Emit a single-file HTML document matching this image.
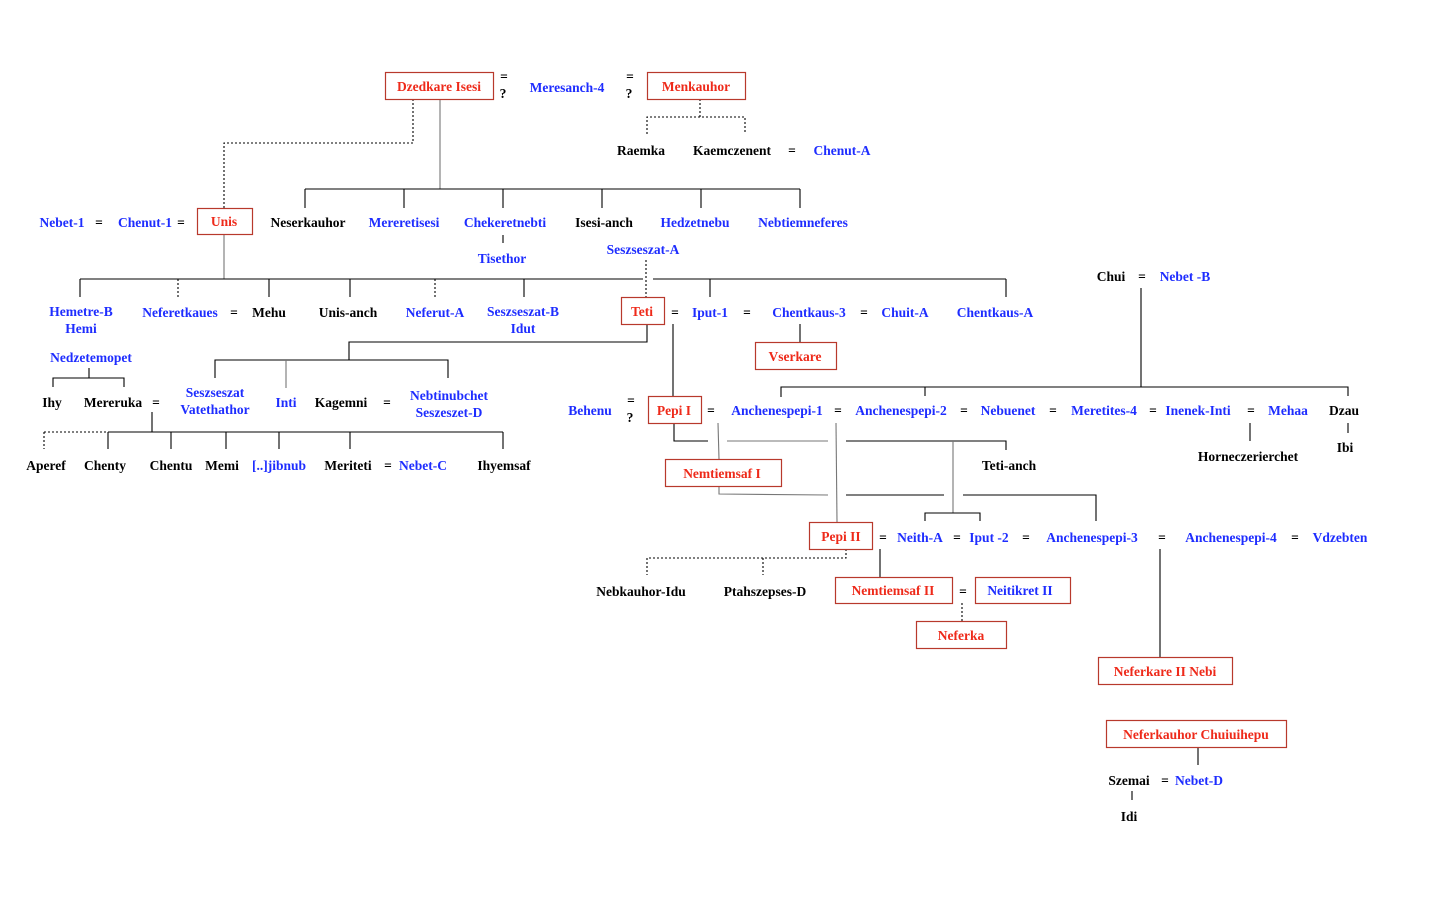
<!DOCTYPE html>
<html><head><meta charset="utf-8"><style>
html,body{margin:0;padding:0;background:#fff;}
svg{display:block;}
text{font-family:"Liberation Serif",serif;font-size:13.5px;font-weight:bold;text-anchor:middle;}
.k{fill:#000;} .b{fill:#1e2dff;} .r{fill:#ee2a1a;}
rect{fill:#fff;stroke:#b8392c;stroke-width:1.2;}
line,polyline{stroke:#000;stroke-width:1.1;fill:none;}
.d{stroke-dasharray:2,2;}
.g{stroke:#777;}
</style></head><body>
<svg width="1449" height="902" viewBox="0 0 1449 902" xmlns="http://www.w3.org/2000/svg">
<!-- lines -->
<polyline class="d" points="413,99 413,143 224,143 224,208"/>
<line x1="440" y1="99" x2="440" y2="189" class="g"/>
<line x1="305" y1="189" x2="800" y2="189"/>
<line x1="305" y1="189" x2="305" y2="208"/><line x1="404" y1="189" x2="404" y2="208"/>
<line x1="503" y1="189" x2="503" y2="208"/><line x1="602" y1="189" x2="602" y2="208"/>
<line x1="701" y1="189" x2="701" y2="208"/><line x1="800" y1="189" x2="800" y2="208"/>
<line class="d" x1="700" y1="99" x2="700" y2="117"/>
<polyline class="d" points="647,134 647,117 745,117 745,134"/>
<line x1="503" y1="235" x2="503" y2="243"/>
<line class="d" x1="646" y1="260" x2="646" y2="297"/>
<line x1="224" y1="234" x2="224" y2="279" class="g"/>
<line x1="80" y1="279" x2="643" y2="279"/><line x1="653" y1="279" x2="1006" y2="279"/>
<line x1="80" y1="279" x2="80" y2="297"/><line class="d" x1="178" y1="279" x2="178" y2="297"/>
<line x1="269" y1="279" x2="269" y2="297"/><line x1="350" y1="279" x2="350" y2="297"/>
<line class="d" x1="435" y1="279" x2="435" y2="297"/><line x1="524" y1="279" x2="524" y2="297"/>
<line x1="710" y1="279" x2="710" y2="297"/><line x1="1006" y1="279" x2="1006" y2="297"/>
<polyline points="647,324 647,342 349,342 349,360"/>
<polyline points="215,378 215,360 448,360 448,378"/>
<line x1="286" y1="360" x2="286" y2="388" class="g"/>
<line x1="673" y1="324" x2="673" y2="397"/>
<line x1="800" y1="324" x2="800" y2="342"/>
<line x1="1141" y1="288" x2="1141" y2="387"/>
<polyline points="781,397 781,387 1348,387 1348,396"/>
<line x1="925" y1="387" x2="925" y2="396"/>
<line x1="89" y1="368" x2="89" y2="378"/>
<polyline points="53,387 53,378 124,378 124,387"/>
<line x1="152" y1="412" x2="152" y2="432"/>
<line class="d" x1="44" y1="432" x2="108" y2="432"/><line x1="108" y1="432" x2="503" y2="432"/>
<line class="d" x1="44" y1="432" x2="44" y2="449"/>
<line x1="108" y1="432" x2="108" y2="449"/><line x1="171" y1="432" x2="171" y2="449"/>
<line x1="226" y1="432" x2="226" y2="449"/><line x1="279" y1="432" x2="279" y2="449"/>
<line x1="350" y1="432" x2="350" y2="449"/><line x1="503" y1="432" x2="503" y2="449"/>
<polyline points="674,423 674,441 708,441"/>
<line x1="727" y1="441" x2="828" y2="441" class="g"/>
<polyline points="846,441 1006,441 1006,450"/>
<line x1="718" y1="423" x2="719" y2="459" class="g"/>
<polyline points="719,486 719,494 828,495" class="g"/>
<line x1="846" y1="495" x2="944" y2="495"/>
<polyline points="963,495 1096,495 1096,521"/>
<line x1="953" y1="441" x2="953" y2="513" class="g"/>
<polyline points="925,521 925,513 980,513 980,521"/>
<line x1="836" y1="423" x2="837" y2="522" class="g"/>
<line x1="1250" y1="423" x2="1250" y2="441"/>
<line x1="1348" y1="423" x2="1348" y2="433"/>
<polyline class="d" points="846,549 846,558 647,558 647,575"/>
<line class="d" x1="763" y1="558" x2="763" y2="575"/>
<line x1="880" y1="549" x2="880" y2="577"/>
<line class="d" x1="962" y1="603" x2="962" y2="621"/>
<line x1="1160" y1="549" x2="1160" y2="657"/>
<line x1="1198" y1="747" x2="1198" y2="765"/>
<line x1="1132" y1="791" x2="1132" y2="800"/>
<!-- boxes -->
<rect x="385.5" y="72.5" width="108" height="27"/>
<rect x="647.5" y="72.5" width="98" height="27"/>
<rect x="197.5" y="208.5" width="55" height="26"/>
<rect x="621.5" y="297.5" width="43" height="27"/>
<rect x="755.5" y="342.5" width="81" height="27"/>
<rect x="648.5" y="396.5" width="53" height="27"/>
<rect x="665.5" y="459.5" width="116" height="27"/>
<rect x="809.5" y="522.5" width="63" height="27"/>
<rect x="835.5" y="577.5" width="117" height="26"/>
<rect x="975.5" y="577.5" width="95" height="26"/>
<rect x="916.5" y="621.5" width="90" height="27"/>
<rect x="1098.5" y="657.5" width="134" height="27"/>
<rect x="1106.5" y="720.5" width="180" height="27"/>
<!-- text -->
<text x="439" y="91" class="r">Dzedkare Isesi</text>
<text x="504" y="81" class="k">=</text><text x="503" y="98" class="k">?</text>
<text x="567" y="92" class="b">Meresanch-4</text>
<text x="630" y="81" class="k">=</text><text x="629" y="98" class="k">?</text>
<text x="696" y="91" class="r">Menkauhor</text>
<text x="641" y="155" class="k">Raemka</text>
<text x="732" y="155" class="k">Kaemczenent</text>
<text x="792" y="155" class="k">=</text>
<text x="842" y="155" class="b">Chenut-A</text>
<text x="62" y="227" class="b">Nebet-1</text>
<text x="99" y="227" class="k">=</text>
<text x="145" y="227" class="b">Chenut-1</text>
<text x="181" y="227" class="k">=</text>
<text x="224" y="226" class="r">Unis</text>
<text x="308" y="227" class="k">Neserkauhor</text>
<text x="404" y="227" class="b">Mereretisesi</text>
<text x="505" y="227" class="b">Chekeretnebti</text>
<text x="604" y="227" class="k">Isesi-anch</text>
<text x="695" y="227" class="b">Hedzetnebu</text>
<text x="803" y="227" class="b">Nebtiemneferes</text>
<text x="502" y="263" class="b">Tisethor</text>
<text x="643" y="254" class="b">Seszseszat-A</text>
<text x="81" y="316" class="b">Hemetre-B</text>
<text x="81" y="333" class="b">Hemi</text>
<text x="180" y="317" class="b">Neferetkaues</text>
<text x="234" y="317" class="k">=</text>
<text x="269" y="317" class="k">Mehu</text>
<text x="348" y="317" class="k">Unis-anch</text>
<text x="435" y="317" class="b">Neferut-A</text>
<text x="523" y="316" class="b">Seszseszat-B</text>
<text x="523" y="333" class="b">Idut</text>
<text x="642" y="316" class="r">Teti</text>
<text x="675" y="317" class="k">=</text>
<text x="710" y="317" class="b">Iput-1</text>
<text x="747" y="317" class="k">=</text>
<text x="809" y="317" class="b">Chentkaus-3</text>
<text x="864" y="317" class="k">=</text>
<text x="905" y="317" class="b">Chuit-A</text>
<text x="995" y="317" class="b">Chentkaus-A</text>
<text x="795" y="361" class="r">Vserkare</text>
<text x="1111" y="281" class="k">Chui</text>
<text x="1142" y="281" class="k">=</text>
<text x="1185" y="281" class="b">Nebet -B</text>
<text x="91" y="362" class="b">Nedzetemopet</text>
<text x="52" y="407" class="k">Ihy</text>
<text x="113" y="407" class="k">Mereruka</text>
<text x="156" y="407" class="k">=</text>
<text x="215" y="397" class="b">Seszseszat</text>
<text x="215" y="414" class="b">Vatethathor</text>
<text x="286" y="407" class="b">Inti</text>
<text x="341" y="407" class="k">Kagemni</text>
<text x="387" y="407" class="k">=</text>
<text x="449" y="400" class="b">Nebtinubchet</text>
<text x="449" y="417" class="b">Seszeszet-D</text>
<text x="46" y="470" class="k">Aperef</text>
<text x="105" y="470" class="k">Chenty</text>
<text x="171" y="470" class="k">Chentu</text>
<text x="222" y="470" class="k">Memi</text>
<text x="279" y="470" class="b">[..]jibnub</text>
<text x="348" y="470" class="k">Meriteti</text>
<text x="388" y="470" class="k">=</text>
<text x="423" y="470" class="b">Nebet-C</text>
<text x="504" y="470" class="k">Ihyemsaf</text>
<text x="590" y="415" class="b">Behenu</text>
<text x="631" y="405" class="k">=</text><text x="630" y="422" class="k">?</text>
<text x="674" y="415" class="r">Pepi I</text>
<text x="711" y="415" class="k">=</text>
<text x="777" y="415" class="b">Anchenespepi-1</text>
<text x="838" y="415" class="k">=</text>
<text x="901" y="415" class="b">Anchenespepi-2</text>
<text x="964" y="415" class="k">=</text>
<text x="1008" y="415" class="b">Nebuenet</text>
<text x="1053" y="415" class="k">=</text>
<text x="1104" y="415" class="b">Meretites-4</text>
<text x="1153" y="415" class="k">=</text>
<text x="1198" y="415" class="b">Inenek-Inti</text>
<text x="1251" y="415" class="k">=</text>
<text x="1288" y="415" class="b">Mehaa</text>
<text x="1344" y="415" class="k">Dzau</text>
<text x="1248" y="461" class="k">Horneczerierchet</text>
<text x="1345" y="452" class="k">Ibi</text>
<text x="722" y="478" class="r">Nemtiemsaf I</text>
<text x="1009" y="470" class="k">Teti-anch</text>
<text x="841" y="541" class="r">Pepi II</text>
<text x="883" y="542" class="k">=</text>
<text x="920" y="542" class="b">Neith-A</text>
<text x="957" y="542" class="k">=</text>
<text x="989" y="542" class="b">Iput -2</text>
<text x="1026" y="542" class="k">=</text>
<text x="1092" y="542" class="b">Anchenespepi-3</text>
<text x="1162" y="542" class="k">=</text>
<text x="1231" y="542" class="b">Anchenespepi-4</text>
<text x="1295" y="542" class="k">=</text>
<text x="1340" y="542" class="b">Vdzebten</text>
<text x="641" y="596" class="k">Nebkauhor-Idu</text>
<text x="765" y="596" class="k">Ptahszepses-D</text>
<text x="893" y="595" class="r">Nemtiemsaf II</text>
<text x="963" y="596" class="k">=</text>
<text x="1020" y="595" class="b">Neitikret II</text>
<text x="961" y="640" class="r">Neferka</text>
<text x="1165" y="676" class="r">Neferkare II Nebi</text>
<text x="1196" y="739" class="r">Neferkauhor Chuiuihepu</text>
<text x="1129" y="785" class="k">Szemai</text>
<text x="1165" y="785" class="k">=</text>
<text x="1199" y="785" class="b">Nebet-D</text>
<text x="1129" y="821" class="k">Idi</text>
</svg>
</body></html>
